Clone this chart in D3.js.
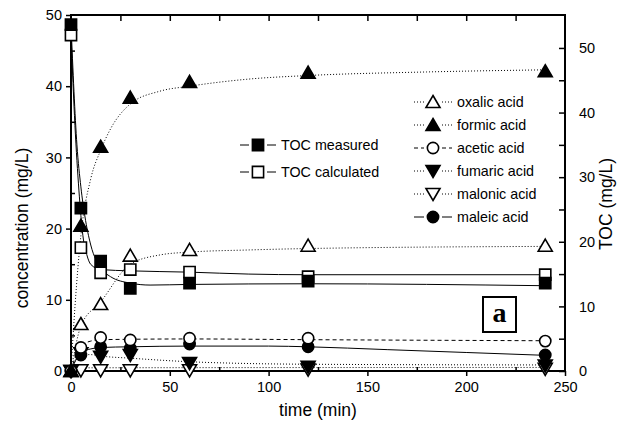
<!DOCTYPE html>
<html>
<head>
<meta charset="utf-8">
<script src="https://cdn.jsdelivr.net/npm/d3@7"></script>
<style>
  body { margin: 0; background: #fff; }
  svg text { font-family: "Liberation Sans", Arial, sans-serif; fill: #000; }
</style>
</head>
<body>
<div class="chart"></div>
<script>
var svgWidth = 620;
var svgHeight = 427;
var margin = { top: 15, right: 55, bottom: 56, left: 71 };
var width = svgWidth - margin.left - margin.right;
var height = svgHeight - margin.top - margin.bottom;

// sampling times (min)
var times = [0, 5, 15, 30, 60, 120, 240];

// TOC (right axis, mg/L)
var tocMeasured   = [53.6, 25.2, 17.0, 12.8, 13.6, 13.9, 13.6];
var tocCalculated = [52.0, 19.1, 15.2, 15.7, 15.3, 14.6, 14.9];

// acids (left axis, mg/L)
var oxalic  = [0, 6.6, 9.4, 16.2, 17.0, 17.6, 17.6];
var formic  = [0, 20.4, 31.5, 38.4, 40.6, 41.9, 42.1];
var acetic  = [0, 3.3, 4.7, 4.35, 4.6, 4.6, 4.2];
var fumaric = [0, 2.5, 2.0, 2.25, 1.1, 0.6, 0.75];
var malonic = [0, 0.1, 0.1, 0.1, 0.1, 0.2, 0.3];
var maleic  = [0, 2.25, 3.4, 3.2, 3.8, 3.4, 2.25];

// fitted curves: [time, value]
var fitTocMeasured = [[0,53.6],[3,35],[5,28.5],[7,24],[10,19.5],[15,16],[20,14.6],[30,13.6],[40,13.3],[60,13.4],[120,13.5],[240,13.2]];
var fitTocCalculated = [[0,52],[2,38],[4,28],[6,21],[8,18],[10,16.5],[15,15.7],[30,15.5],[60,15.3],[90,15.0],[120,14.9],[240,14.9]];
var fitOxalic  = [[0,0],[5,6.3],[15,9.7],[30,15.0],[45,16.3],[60,16.7],[90,17.0],[120,17.2],[240,17.5]];
var fitFormic  = [[0,0],[2,9],[5,19],[10,27],[15,31],[20,34],[30,37.5],[45,39.3],[60,40.0],[90,41.0],[120,41.5],[180,42.0],[240,42.3]];
var fitAcetic  = [[0,0],[3,2.6],[6,3.7],[10,4.2],[15,4.4],[60,4.5],[120,4.4],[240,4.25]];
var fitFumaric = [[0,0],[3,1.8],[5,2.3],[10,2.3],[15,2.1],[30,1.8],[60,1.3],[90,1.05],[120,0.95],[240,0.85]];
var fitMalonic = [[0,0],[3,0.3],[10,0.45],[240,0.5]];
var fitMaleic  = [[0,0],[3,1.8],[6,2.7],[10,3.1],[15,3.3],[30,3.4],[60,3.5],[100,3.5],[120,3.4],[160,3.0],[200,2.6],[240,2.2]];

var xTicks = [0, 50, 100, 150, 200, 250];
var yTicks = [0, 10, 20, 30, 40, 50];
var tocTicks = [0, 10, 20, 30, 40, 50];

var svg = d3.select(".chart")
  .append("svg")
  .attr("width", svgWidth)
  .attr("height", svgHeight);

var chartGroup = svg.append("g")
  .attr("transform", `translate(${margin.left}, ${margin.top})`);

var xScale = d3.scaleLinear().domain([0, 250]).range([0, width]);
var yScale = d3.scaleLinear().domain([0, 50]).range([height, 0]);
var tocScale = d3.scaleLinear().domain([0, 55.1]).range([height, 0]);

// axes: majors out, minors in (bottom/left); top/right ticks inward
function styleAxis(g) {
  g.select(".domain").remove();
  g.selectAll("line").attr("stroke", "#000").attr("stroke-width", 1.5);
  g.selectAll("text").style("font-size", "14.5px");
}

chartGroup.append("g")
  .attr("transform", `translate(0, ${height})`)
  .call(d3.axisBottom(xScale).tickValues(xTicks).tickSize(5).tickPadding(6))
  .call(styleAxis);
chartGroup.append("g")
  .attr("transform", `translate(0, ${height})`)
  .call(d3.axisBottom(xScale).tickValues([25, 75, 125, 175, 225]).tickSize(-4).tickFormat(""))
  .call(styleAxis);
chartGroup.append("g")
  .call(d3.axisTop(xScale).tickValues(d3.range(25, 250, 25)).tickSize(-6).tickFormat(""))
  .call(styleAxis);

chartGroup.append("g")
  .call(d3.axisLeft(yScale).tickValues(yTicks).tickSize(5).tickPadding(4))
  .call(styleAxis);
chartGroup.append("g")
  .call(d3.axisLeft(yScale).tickValues([5, 15, 25, 35, 45]).tickSize(-4).tickFormat(""))
  .call(styleAxis);

chartGroup.append("g")
  .attr("transform", `translate(${width}, 0)`)
  .call(d3.axisRight(tocScale).tickValues(tocTicks).tickSize(-6).tickPadding(14))
  .call(styleAxis);
chartGroup.append("g")
  .attr("transform", `translate(${width}, 0)`)
  .call(d3.axisRight(tocScale).tickValues([5, 15, 25, 35, 45]).tickSize(-6).tickFormat(""))
  .call(styleAxis);

// frame
chartGroup.append("rect")
  .attr("width", width).attr("height", height)
  .attr("fill", "none").attr("stroke", "#000").attr("stroke-width", 2);

// fitted lines
function drawFit(points, scale, dash) {
  var line = d3.line()
    .x(d => xScale(d[0]))
    .y(d => scale(d[1]))
    .curve(d3.curveMonotoneX);
  chartGroup.append("path")
    .datum(points)
    .attr("d", line)
    .attr("fill", "none")
    .attr("stroke", "#000")
    .attr("stroke-width", 1)
    .attr("stroke-dasharray", dash);
}

drawFit(fitOxalic, yScale, "1,2");
drawFit(fitFormic, yScale, "1,2");
drawFit(fitAcetic, yScale, "4,3");
drawFit(fitFumaric, yScale, "1,2");
drawFit(fitMalonic, yScale, "1,2");
drawFit(fitMaleic, yScale, null);
drawFit(fitTocCalculated, tocScale, null);
drawFit(fitTocMeasured, tocScale, null);

// markers
function symbolPath(kind) {
  if (kind === "square") return d3.symbol(d3.symbolSquare, 125)();
  if (kind === "circle") return d3.symbol(d3.symbolCircle, 100)();
  if (kind === "up") return "M0,-6.5L7,5.5L-7,5.5Z";
  if (kind === "down") return "M0,6.5L7,-5.5L-7,-5.5Z";
}

var series = [
  { name: "malonic acid",  values: malonic,  scale: yScale, kind: "down",   filled: false, dash: "1,2" },
  { name: "fumaric acid",  values: fumaric,  scale: yScale, kind: "down",   filled: true,  dash: "1,2" },
  { name: "maleic acid",   values: maleic,   scale: yScale, kind: "circle", filled: true,  dash: null },
  { name: "acetic acid",   values: acetic,   scale: yScale, kind: "circle", filled: false, dash: "4,3" },
  { name: "oxalic acid",   values: oxalic,   scale: yScale, kind: "up",     filled: false, dash: "1,2" },
  { name: "formic acid",   values: formic,   scale: yScale, kind: "up",     filled: true,  dash: "1,2" },
  { name: "TOC calculated", values: tocCalculated, scale: tocScale, kind: "square", filled: false, dash: null },
  { name: "TOC measured",  values: tocMeasured, scale: tocScale, kind: "square", filled: true, dash: null }
];

series.forEach(function(s) {
  chartGroup.selectAll(null)
    .data(times.map((t, i) => [t, s.values[i]]))
    .enter()
    .append("path")
    .attr("d", symbolPath(s.kind))
    .attr("transform", d => `translate(${xScale(d[0])}, ${s.scale(d[1])})`)
    .attr("fill", s.filled ? "#000" : "#fff")
    .attr("stroke", "#000")
    .attr("stroke-width", 1.6);
});

// legend helper
function legendRow(x0, y, s, segLen, gap, textX) {
  var g = svg.append("g");
  g.append("line")
    .attr("x1", x0).attr("x2", x0 + segLen)
    .attr("y1", y).attr("y2", y)
    .attr("stroke", "#000").attr("stroke-width", 1)
    .attr("stroke-dasharray", s.dash);
  var mx = x0 + segLen + gap;
  g.append("line")
    .attr("x1", mx + gap).attr("x2", mx + gap + segLen)
    .attr("y1", y).attr("y2", y)
    .attr("stroke", "#000").attr("stroke-width", 1)
    .attr("stroke-dasharray", s.dash);
  g.append("path")
    .attr("d", symbolPath(s.kind))
    .attr("transform", `translate(${mx}, ${y})`)
    .attr("fill", s.filled ? "#000" : "#fff")
    .attr("stroke", "#000").attr("stroke-width", 1.6);
  g.append("text")
    .attr("x", textX).attr("y", y)
    .attr("dy", "0.35em")
    .style("font-size", "14.3px")
    .text(s.name);
}

var byName = {};
series.forEach(s => byName[s.name] = s);

legendRow(240, 145, byName["TOC measured"], 9, 9, 281);
legendRow(240, 172, byName["TOC calculated"], 9, 9, 281);

var acidOrder = ["oxalic acid", "formic acid", "acetic acid", "fumaric acid", "malonic acid", "maleic acid"];
acidOrder.forEach(function(n, i) {
  legendRow(414, 102 + i * 23, byName[n], 10, 9, 457);
});

// panel label
svg.append("rect")
  .attr("x", 483).attr("y", 297).attr("width", 33).attr("height", 35)
  .attr("fill", "#fff").attr("stroke", "#000").attr("stroke-width", 2);
svg.append("text")
  .attr("x", 499.5).attr("y", 322)
  .attr("text-anchor", "middle")
  .style("font-family", "'Liberation Serif', 'Times New Roman', serif")
  .style("font-weight", "bold")
  .style("font-size", "28px")
  .text("a");

// axis titles
svg.append("text")
  .attr("transform", "translate(28, 228) rotate(-90)")
  .attr("text-anchor", "middle")
  .style("font-size", "17.5px")
  .text("concentration (mg/L)");

svg.append("text")
  .attr("transform", "translate(612, 204) rotate(-90)")
  .attr("text-anchor", "middle")
  .style("font-size", "17.5px")
  .text("TOC (mg/L)");

svg.append("text")
  .attr("x", 318).attr("y", 416)
  .attr("text-anchor", "middle")
  .style("font-size", "17.5px")
  .text("time (min)");
</script>
</body>
</html>
